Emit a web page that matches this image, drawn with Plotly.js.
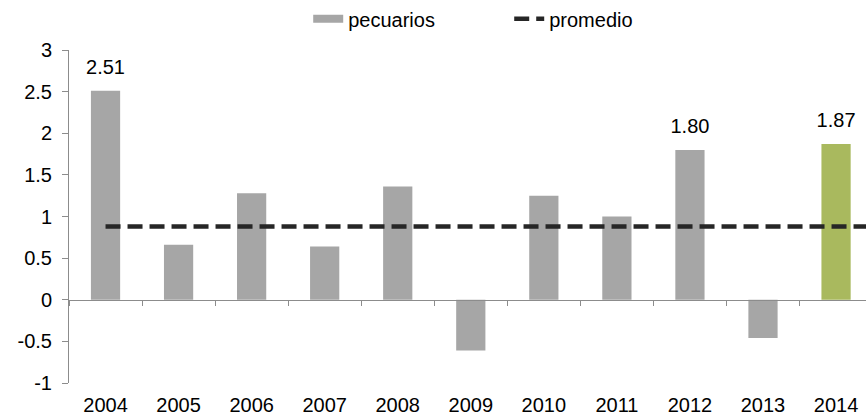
<!DOCTYPE html>
<html>
<head>
<meta charset="utf-8">
<script src="https://cdn.plot.ly/plotly-3.0.1.min.js"></script>
<style>html,body{margin:0;padding:0;background:#fff;}#chart{width:866px;height:418px;}</style>
</head>
<body>
<div id="chart"></div>
<script>
const years = [2004, 2005, 2006, 2007, 2008, 2009, 2010, 2011, 2012, 2013, 2014];
const pecuarios = [2.51, 0.66, 1.28, 0.64, 1.36, -0.61, 1.25, 1.00, 1.80, -0.46, 1.87];
const labels = ["2.51", "", "", "", "", "", "", "", "1.80", "", "1.87"];
const promedio = 0.88;
const yTicks = [-1, -0.5, 0, 0.5, 1, 1.5, 2, 2.5, 3];
const yTickText = ["-1", "-0.5", "0", "0.5", "1", "1.5", "2", "2.5", "3"];

const gray = "#A6A6A6";
const green = "#A9B95E";
const barColors = years.map((y, i) => i === years.length - 1 ? green : gray);

const font = {family: "'Liberation Sans', Arial, sans-serif", size: 20, color: "#000"};

const traces = [
  {
    type: "bar", name: "pecuarios", x: years, y: pecuarios,
    marker: {color: barColors}, width: 0.4, hoverinfo: "skip", showlegend: false
  },
  {
    type: "scatter", mode: "lines", name: "pecuarios", x: [null], y: [null],
    line: {color: gray, width: 8}
  },
  {
    type: "scatter", mode: "lines", name: "promedio",
    x: [years[0], years[years.length - 1] + 0.5], y: [promedio, promedio],
    line: {color: "#262626", width: 4.5, dash: "15px,7px"}
  },
  {
    type: "scatter", mode: "markers+text", x: years, y: pecuarios, text: labels,
    textposition: "top center", textfont: font, cliponaxis: false,
    marker: {size: 18, opacity: 0}, showlegend: false, hoverinfo: "skip"
  },
  {
    type: "scatter", mode: "lines", x: years, y: years.map(() => 0),
    xaxis: "x2", showlegend: false, line: {width: 0}, hoverinfo: "skip"
  }
];

const layout = {
  width: 866, height: 418,
  margin: {l: 69, r: 0, t: 50, b: 35, autoexpand: false},
  paper_bgcolor: "#fff", plot_bgcolor: "#fff",
  font: font,
  showlegend: true,
  legend: {orientation: "h", xref: "container", yref: "container", x: 0.588, xanchor: "center",
           y: 0.955, yanchor: "middle", font: font, traceorder: "normal", entrywidth: 156},
  xaxis: {
    type: "linear", range: [2003.5, 2014.41], automargin: false,
    tickvals: years, ticktext: years.map(String),
    ticks: "", showline: false, showgrid: false, zeroline: false,
    ticklabelstandoff: 8, tickfont: font
  },
  xaxis2: {
    type: "linear", overlaying: "x", matches: "x", anchor: "free", position: 0.25,
    showticklabels: false, showline: true, linecolor: "#8C8C8C", linewidth: 1,
    showgrid: false, zeroline: false, ticks: "", automargin: false,
    tickvals: years,
    minor: {ticks: "outside", tick0: 2004.5, dtick: 1, ticklen: 5, tickcolor: "#8C8C8C", showgrid: false}
  },
  yaxis: {
    range: [-1, 3], domain: [0, 1], tickvals: yTicks, ticktext: yTickText, automargin: false,
    ticks: "outside", ticklen: 6, tickcolor: "#8C8C8C", ticklabelstandoff: 6,
    showline: true, linecolor: "#8C8C8C", linewidth: 1,
    showgrid: false, zeroline: false, tickfont: font
  }
};

Plotly.newPlot("chart", traces, layout, {displayModeBar: false, staticPlot: true});
</script>
</body>
</html>
